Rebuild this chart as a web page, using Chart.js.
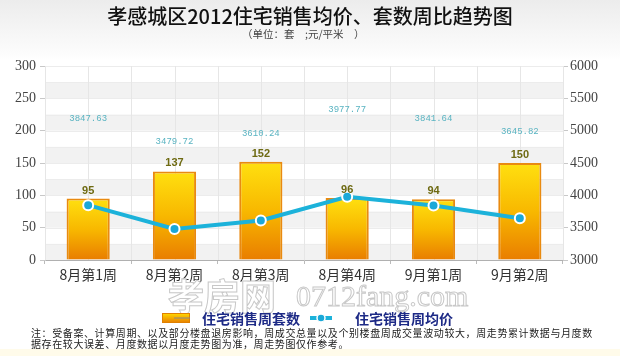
<!DOCTYPE html>
<html>
<head>
<meta charset="utf-8">
<script src="https://cdn.jsdelivr.net/npm/chart.js@4/dist/chart.umd.min.js"></script>
<style>
  html, body { margin:0; padding:0; }
  body { width:620px; height:356px; position:relative; overflow:hidden;
         background: linear-gradient(#ececec 0px, #fbfbfb 50px, #ffffff 60px); }
  #wrap { position:absolute; left:0; top:0; width:620px; height:356px; }
  .t { position:absolute; white-space:nowrap; font-family:"Noto Sans CJK SC", sans-serif; }
  #title { left:0; width:620px; text-align:center; top:4px; font-size:20px; color:#111; line-height:24px; font-weight:500; }
  #sub { left:242px; top:27px; font-size:10.5px; color:#444; line-height:13px; }
  .leg { top:309px; font-size:14px; font-weight:bold; color:#1d2a86; line-height:18px; }
  #note { left:31px; top:328px; font-size:10px; color:#222; line-height:10.5px; letter-spacing:0.6px; }
  #cream { position:absolute; left:0; top:349px; width:620px; height:7px; background:#fffbea; }
  #ib { position:absolute; left:162px; top:313px; width:28px; height:10px; }
  #il { position:absolute; left:310px; top:313px; width:22px; height:10px; }
</style>
</head>
<body>
<div id="cream"></div>
<div id="wrap"><canvas id="c" width="620" height="356"></canvas></div>
<div class="t" id="title">孝感城区2012住宅销售均价、套数周比趋势图</div>
<div class="t" id="sub">（单位：套　;元/平米　）</div>
<svg id="ib" viewBox="0 0 28 10"><defs><linearGradient id="g" x1="0" y1="0" x2="0" y2="1"><stop offset="0" stop-color="#ffd800"/><stop offset="1" stop-color="#e88000"/></linearGradient></defs><rect x="0.5" y="0.5" width="27" height="9" fill="url(#g)" stroke="#e08000"/><line x1="12" y1="5" x2="28" y2="5" stroke="#888" stroke-width="1"/></svg>
<div class="t leg" style="left:202px">住宅销售周套数</div>
<svg id="il" viewBox="0 0 22 10"><line x1="0" y1="5" x2="22" y2="5" stroke="#1cb2da" stroke-width="4"/><circle cx="11" cy="5" r="4" fill="#1aa8d8" stroke="#fff" stroke-width="1.5"/></svg>
<div class="t leg" style="left:355px">住宅销售周均价</div>
<div class="t" id="note">注：受备案、计算周期、以及部分楼盘退房影响，周成交总量以及个别楼盘周成交量波动较大，周走势累计数据与月度数<br>据存在较大误差、月度数据以月度走势图为准，周走势图仅作参考。</div>
<script>
const categories = ["8月第1周", "8月第2周", "8月第3周", "8月第4周", "9月第1周", "9月第2周"];
const weeklyUnits = [95, 137, 152, 96, 94, 150];
const weeklyAvgPrice = [3847.63, 3479.72, 3610.24, 3977.77, 3841.64, 3645.82];
const leftTicks = [0, 50, 100, 150, 200, 250, 300];
const rightTicks = [3000, 3500, 4000, 4500, 5000, 5500, 6000];

const bgPlugin = {
  id: 'bg',
  beforeDatasetsDraw(chart) {
    const {ctx, chartArea: a, scales} = chart;
    const y = scales.y;
    ctx.save();
    for (let v = 0; v < 300; v += 25) {
      if ((v / 25) % 2 === 0) {
        const top = y.getPixelForValue(v + 25), bot = y.getPixelForValue(v);
        ctx.fillStyle = '#f2f2f2';
        ctx.fillRect(a.left, top, a.right - a.left, bot - top);
      }
    }
    ctx.strokeStyle = '#ececec';
    ctx.lineWidth = 1;
    for (let v = 25; v <= 300; v += 25) {
      const p = Math.round(y.getPixelForValue(v)) + 0.5;
      ctx.beginPath(); ctx.moveTo(a.left, p); ctx.lineTo(a.right, p); ctx.stroke();
    }
    ctx.strokeStyle = '#e6e6e6';
    const n = categories.length;
    const w = (a.right - a.left) / n;
    for (let i = 0; i <= n * 2; i++) {
      const p = Math.round(a.left + i * w / 2) + 0.5;
      ctx.beginPath(); ctx.moveTo(p, a.top); ctx.lineTo(p, a.bottom); ctx.stroke();
    }
    ctx.restore();
  }
};

const labelPlugin = {
  id: 'labels',
  afterDatasetsDraw(chart) {
    const {ctx} = chart;
    ctx.save();
    const bars = chart.getDatasetMeta(0).data;
    ctx.textAlign = 'center';
    ctx.textBaseline = 'middle';
    ctx.font = 'bold 11px "Liberation Sans", Arial, sans-serif';
    ctx.fillStyle = '#6e6a12';
    bars.forEach((b, i) => { ctx.fillText(String(weeklyUnits[i]), b.x, b.y - 8); });
    const pts = chart.getDatasetMeta(1).data;
    ctx.font = '9px "Liberation Mono", "DejaVu Sans Mono", monospace';
    ctx.fillStyle = '#5ab4c2';
    pts.forEach((p, i) => { ctx.fillText(weeklyAvgPrice[i].toFixed(2), p.x, p.y - 87); });
    ctx.restore();
  },
  afterDraw(chart) {
    const {ctx} = chart;
    ctx.save();
    ctx.lineWidth = 1;
    ctx.strokeStyle = '#c8c8c8';
    ctx.fillStyle = 'rgba(255,255,255,0.9)';
    ctx.textBaseline = 'middle';
    ctx.textAlign = 'left';
    ctx.font = 'bold 36px "Noto Sans CJK SC", sans-serif';
    ctx.fillText('孝房网', 168, 296);
    ctx.strokeText('孝房网', 168, 296);
    ctx.font = '30px "Liberation Serif", serif';
    ctx.fillText('0712fang.com', 296, 298);
    ctx.strokeText('0712fang.com', 296, 298);
    ctx.restore();
  }
};

function barFill(context) {
  const chart = context.chart;
  const ys = chart.scales.y;
  if (!chart.chartArea || !ys || context.raw === undefined) return '#f5b000';
  const top = ys.getPixelForValue(context.raw);
  const bot = ys.getPixelForValue(0);
  if (!isFinite(top) || !isFinite(bot) || top === bot) return '#f5b000';
  const g = chart.ctx.createLinearGradient(0, top, 0, bot);
  g.addColorStop(0, '#ffe010');
  g.addColorStop(0.5, '#f8b800');
  g.addColorStop(1, '#e97d00');
  return g;
}

const tickFont = { family: '"Liberation Serif", "DejaVu Serif", serif', size: 14 };

new Chart(document.getElementById('c'), {
  type: 'bar',
  data: {
    labels: categories,
    datasets: [
      {
        type: 'bar', label: '住宅销售周套数', data: weeklyUnits, yAxisID: 'y', order: 2,
        backgroundColor: barFill, borderColor: '#e98a10', borderWidth: 2,
        borderSkipped: 'start', barPercentage: 0.5, categoryPercentage: 1.0
      },
      {
        type: 'line', label: '住宅销售周均价', data: weeklyAvgPrice, yAxisID: 'y1', order: 1,
        borderColor: '#1cb2da', borderWidth: 4, tension: 0,
        pointRadius: 5, pointBackgroundColor: '#1aa8d8', pointBorderColor: '#ffffff', pointBorderWidth: 2
      }
    ]
  },
  options: {
    responsive: false,
    animation: false,
    devicePixelRatio: 1,
    layout: { padding: { top: 66, left: 0, right: 0, bottom: 0 } },
    plugins: { legend: { display: false }, tooltip: { enabled: false }, title: { display: false } },
    scales: {
      x: {
        offset: true,
        grid: { drawOnChartArea: false, drawTicks: true, tickLength: 4, color: '#bbbbbb', offset: true },
        border: { color: '#b0b0b0' },
        ticks: { color: '#333', padding: 2, font: { family: '"Noto Sans CJK SC", sans-serif', size: 14 } },
        afterFit(s) { s.height = 96; }
      },
      y: {
        position: 'left', min: 0, max: 300,
        afterBuildTicks(s) { s.ticks = leftTicks.map(v => ({ value: v })); },
        grid: { drawOnChartArea: false, tickLength: 5, color: '#c8c8c8' },
        border: { color: '#c8c8c8' },
        ticks: { color: '#444', padding: 4, font: tickFont, callback: v => String(v) },
        afterFit(s) { s.width = 45; }
      },
      y1: {
        position: 'right', min: 3000, max: 6000,
        afterBuildTicks(s) { s.ticks = rightTicks.map(v => ({ value: v })); },
        grid: { drawOnChartArea: false, tickLength: 5, color: '#c8c8c8' },
        border: { color: '#c8c8c8' },
        ticks: { color: '#444', padding: 2, font: tickFont, callback: v => String(v) },
        afterFit(s) { s.width = 57; }
      }
    }
  },
  plugins: [bgPlugin, labelPlugin]
});
</script>
</body>
</html>
